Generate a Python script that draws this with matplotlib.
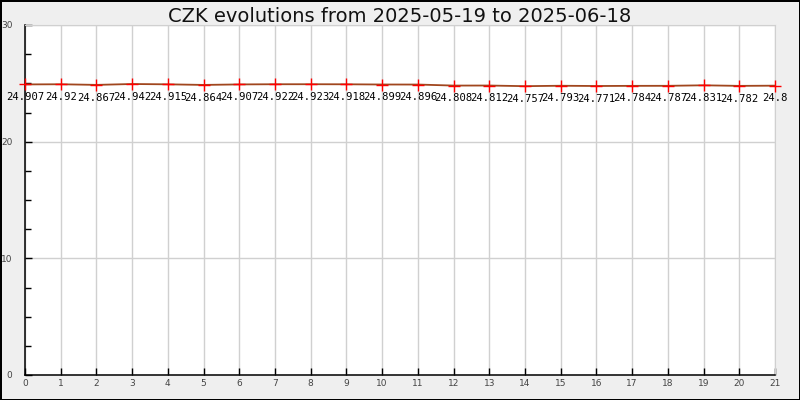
#!/usr/bin/env python3
"""CZK evolution chart, 2025-05-19 to 2025-06-18."""

import matplotlib

matplotlib.use("Agg")
import matplotlib.pyplot as plt
from matplotlib.ticker import MultipleLocator

TITLE = "CZK evolutions from 2025-05-19 to 2025-06-18"
days = list(range(22))
rates = [
    24.907, 24.92, 24.867, 24.942, 24.915, 24.864, 24.907, 24.922,
    24.923, 24.918, 24.899, 24.896, 24.808, 24.812, 24.757, 24.793,
    24.771, 24.784, 24.787, 24.831, 24.782, 24.8,
]
labels = [f"{v:g}" for v in rates]


def main() -> int:
    fig = plt.figure(figsize=(8, 4), dpi=100)
    fig.patch.set_facecolor("#efefef")
    fig.patch.set_edgecolor("black")
    fig.patch.set_linewidth(2)

    ax = fig.add_axes([25 / 800, 25 / 400, 750 / 800, 350 / 400])
    ax.set_facecolor("white")
    ax.set_xlim(0, 21)
    ax.set_ylim(0, 30)
    ax.xaxis.set_major_locator(MultipleLocator(1))
    ax.yaxis.set_major_locator(MultipleLocator(10))
    ax.yaxis.set_minor_locator(MultipleLocator(2.5))
    ax.grid(True, which="major", color="#d0d0d0", linewidth=1)
    ax.set_axisbelow(True)

    for side in ("top", "right"):
        ax.spines[side].set_color("#d0d0d0")
    for side in ("left", "bottom"):
        ax.spines[side].set_color("black")
        ax.spines[side].set_linewidth(1.1)

    ax.tick_params(which="both", direction="in", colors="black", labelcolor="#444444",
                   labelsize=6.5, top=False, right=False)
    ax.tick_params(which="major", length=5, width=1)
    ax.tick_params(which="minor", length=4, width=1)
    ax.tick_params(axis="y", pad=9)
    ax.tick_params(axis="x", pad=3)

    ax.plot(days, rates, color="#a0461e", linewidth=1.3, zorder=3)
    ax.plot(days, rates, linestyle="none", marker="+", markersize=9,
            markeredgewidth=1, color="red", zorder=4, clip_on=False)

    for x, y, text in zip(days, rates, labels):
        ax.annotate(text, (x, y), xytext=(0, -5.5), textcoords="offset points",
                    ha="center", va="top", fontsize=7.6, family="DejaVu Sans Mono",
                    color="black", annotation_clip=False, zorder=5)

    fig.text(0.5, 1 - 16 / 400, TITLE, ha="center", va="center", fontsize=14,
             color="#111111")

    fig.savefig("out.png", dpi=100, facecolor=fig.get_facecolor(),
                edgecolor=fig.get_edgecolor())
    plt.close(fig)
    return 0


if __name__ == "__main__":
    raise SystemExit(main())
